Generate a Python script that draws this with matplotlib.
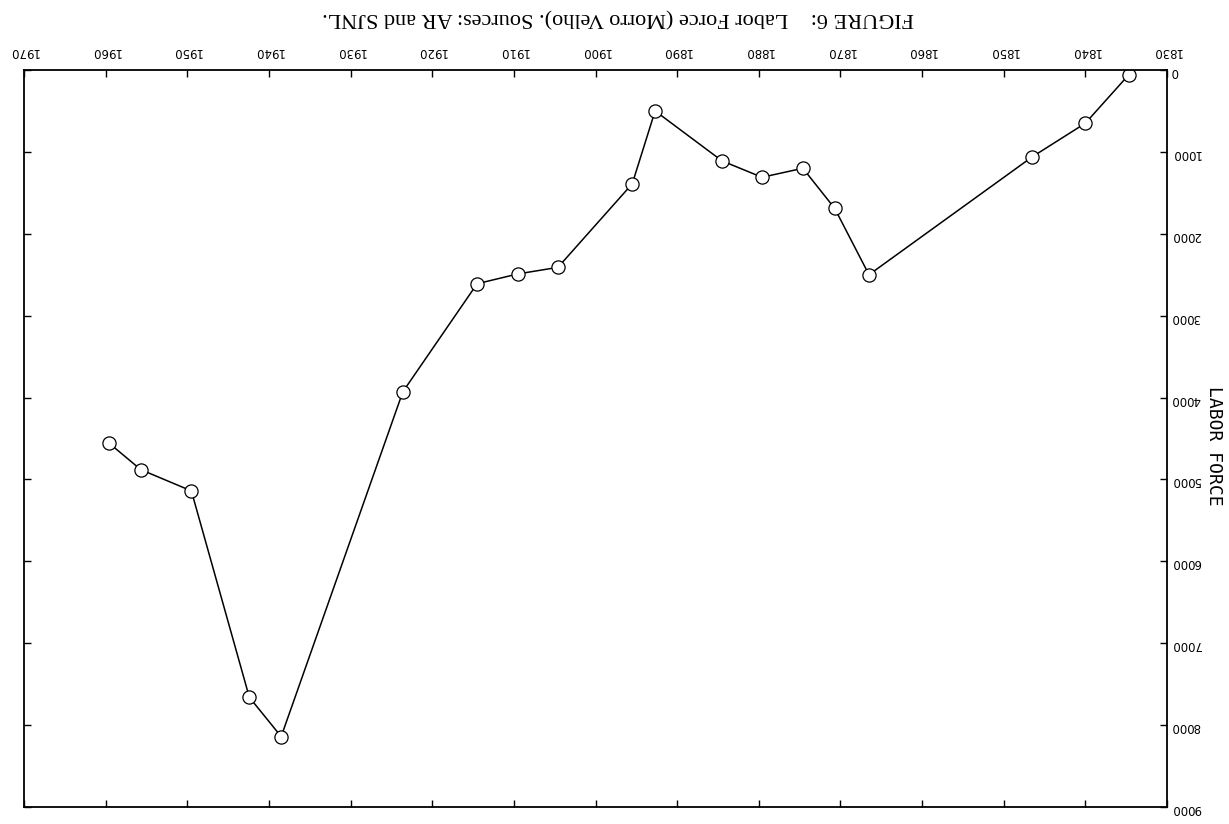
import matplotlib
matplotlib.use("Agg")
import matplotlib.pyplot as plt

# labour force at Morro Velho, year vs. number of workers
anos = [1834.7, 1840, 1846.5, 1866.5, 1870.7, 1874.6, 1879.6, 1884.5, 1892.7,
        1895.5, 1904.6, 1909.5, 1914.5, 1923.6, 1938.5, 1942.4, 1949.5, 1955.7, 1959.6]
trabalhadores = [60, 650, 1060, 2500, 1690, 1200, 1310, 1110, 500,
                 1390, 2410, 2490, 2610, 3930, 8140, 7660, 5140, 4880, 4555]

roky = list(range(1830, 1971, 10))
hodnoty_y = list(range(0, 9001, 1000))

titulek = "FIGURE 6:    Labor Force (Morro Velho). Sources: AR and SJNL."


def main():
    fig = plt.figure(figsize=(12.29, 8.24), dpi=100)
    sirka = (1167 - 24) / 1229
    ax = fig.add_axes([24 / 1229, 1 - 807 / 824, sirka, (807 - 70) / 824])

    ax.plot(anos, trabalhadores, color="black", linewidth=1.1,
            marker="o", markersize=9.5, markerfacecolor="white",
            markeredgecolor="black", markeredgewidth=0.9)

    # the page is printed upside down: axes run backwards, text is turned over
    ax.set_xlim(1970, 1830)
    ax.set_ylim(9000, 0)
    ax.set_xticks(roky)
    ax.set_yticks(hodnoty_y)

    ax.xaxis.tick_top()
    ax.yaxis.tick_right()
    ax.tick_params(axis="x", top=True, bottom=True, labeltop=True, labelbottom=False,
                   direction="in", length=5, width=1, pad=9, labelrotation=180,
                   labelsize=8.5)
    ax.tick_params(axis="y", left=True, right=True, labelleft=False, labelright=True,
                   direction="in", length=5, width=1, pad=3, labelrotation=180,
                   labelsize=8.5)
    for s in ax.spines.values():
        s.set_linewidth(1.3)

    ax.text(1.0 + 47 / 1229 / sirka, 0.49, "LABOR FORCE",
            transform=ax.transAxes, rotation=270, ha="center", va="center",
            family="DejaVu Sans Mono", fontsize=13)

    fig.text(618 / 1229, 1 - 17 / 824, titulek, rotation=180, ha="center", va="center",
             family="Liberation Serif", fontsize=16)

    fig.savefig("out.png", dpi=100)


if __name__ == "__main__":
    main()
